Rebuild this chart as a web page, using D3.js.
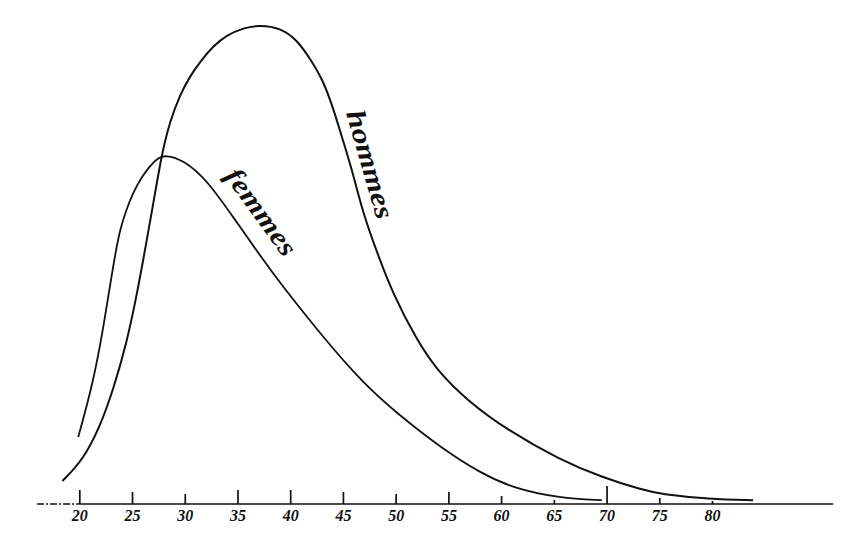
<!DOCTYPE html>
<html>
<head>
<meta charset="utf-8">
<script src="https://cdn.jsdelivr.net/npm/d3@7"></script>
<style>
  html, body { margin: 0; padding: 0; background: #ffffff; }
  svg { display: block; }
</style>
</head>
<body>
<svg id="chart" width="850" height="536"></svg>
<script>
// ---------- data ----------
const tickAges   = [20, 25, 30, 35, 40, 45, 50, 55, 60, 65, 70, 75, 80];
const tickLabels = ["20", "25", "30", "35", "40", "45", "50", "55", "60", "65", "70", "75", "80"];

const hommesAge   = [18.4, 20.35, 21.95, 23.2, 24.5, 25.55, 26.4, 27.35, 27.85, 28.6, 29.55, 30.5, 31.45, 32.7, 34.0, 35.55, 37.15, 39.05, 40.65, 41.9, 43.1, 44.05, 45.0, 45.95, 46.9, 48.25, 49.75, 52.0, 53.9, 56.75, 60.55, 65.6, 69.55, 73.45, 75.05, 79.8, 83.9];
const hommesValue = [4.6, 9.0, 15.9, 23.6, 33.5, 44.6, 55.0, 66.9, 73.2, 79.9, 85.4, 89.3, 92.3, 95.6, 97.9, 99.4, 100, 99.4, 96.9, 92.9, 88.5, 82.8, 75.9, 69.0, 60.7, 52.3, 43.7, 34.1, 27.8, 21.5, 15.3, 9.0, 5.4, 2.7, 1.9, 0.8, 0.6];

const femmesAge   = [19.9, 21.3, 22.25, 23.1, 23.5, 23.85, 24.45, 25.1, 25.85, 26.7, 27.45, 28.15, 29.85, 32.1, 34.6, 37.45, 39.05, 43.1, 46.9, 50.1, 54.2, 58.0, 61.15, 65.6, 69.55];
const femmesValue = [13.8, 25.1, 36.2, 48.1, 53.1, 57.1, 61.3, 64.9, 68.0, 70.5, 72.2, 72.8, 71.8, 67.6, 59.8, 50.8, 46.0, 34.7, 25.1, 18.8, 11.7, 6.3, 3.1, 1.0, 0.6];

const seriesNames = ["hommes", "femmes"];

// ---------- layout / style ----------
const svg = d3.select("#chart");
const x = d3.scaleLinear().domain([20, 80]).range([79.3, 712]);
const y = d3.scaleLinear().domain([0, 100]).range([503, 25]);
const baseY = 504;
const ink = "#111";
const tickLen = [14, 12, 10, 14, 14, 12, 10, 12, 8, 4, 18, 6, 3];

// baseline: broken stub on the left, solid line from the first tick on
svg.append("line")
  .attr("x1", x(16)).attr("x2", x(20))
  .attr("y1", baseY).attr("y2", baseY)
  .attr("stroke", ink).attr("stroke-width", 1.4)
  .attr("stroke-dasharray", "7,2,2,2");
svg.append("line")
  .attr("x1", x(20)).attr("x2", x(91.5))
  .attr("y1", baseY).attr("y2", baseY)
  .attr("stroke", ink).attr("stroke-width", 1.4);

// axis with upward ticks
const axis = d3.axisBottom(x)
  .tickValues(tickAges)
  .tickFormat((d, i) => tickLabels[i])
  .tickSize(-12)
  .tickPadding(6);

const gAxis = svg.append("g")
  .attr("transform", `translate(0,${baseY})`)
  .call(axis);
gAxis.select(".domain").remove();
gAxis.selectAll(".tick line")
  .attr("stroke", ink)
  .attr("stroke-width", 1.7)
  .attr("y2", (d, i) => -tickLen[i]);
gAxis.selectAll(".tick text")
  .attr("fill", ink)
  .style("font-family", "'Liberation Serif', 'DejaVu Serif', serif")
  .style("font-style", "italic")
  .style("font-weight", "bold")
  .style("font-size", "16px");

// curves
const line = d3.line()
  .x(d => x(d[0]))
  .y(d => y(d[1]))
  .curve(d3.curveBasis);

const hommes = hommesAge.map((a, i) => [a, hommesValue[i]]);
const femmes = femmesAge.map((a, i) => [a, femmesValue[i]]);

svg.append("path")
  .datum(hommes)
  .attr("d", line)
  .attr("fill", "none")
  .attr("stroke", ink)
  .attr("stroke-width", 2);

svg.append("path")
  .datum(femmes)
  .attr("d", line)
  .attr("fill", "none")
  .attr("stroke", ink)
  .attr("stroke-width", 1.8);

// curve labels, written along the descending branches
const labelFont = "'Liberation Serif', 'DejaVu Serif', serif";
svg.append("text")
  .attr("transform", "translate(346,113) rotate(74)")
  .attr("textLength", 112)
  .attr("lengthAdjust", "spacingAndGlyphs")
  .style("font-family", labelFont)
  .style("font-style", "italic")
  .style("font-weight", "bold")
  .style("font-size", "27px")
  .attr("fill", ink)
  .text(seriesNames[0]);

svg.append("text")
  .attr("transform", "translate(224,176) rotate(54)")
  .attr("textLength", 102)
  .attr("lengthAdjust", "spacingAndGlyphs")
  .style("font-family", labelFont)
  .style("font-style", "italic")
  .style("font-weight", "bold")
  .style("font-size", "27px")
  .attr("fill", ink)
  .text(seriesNames[1]);
</script>
</body>
</html>
